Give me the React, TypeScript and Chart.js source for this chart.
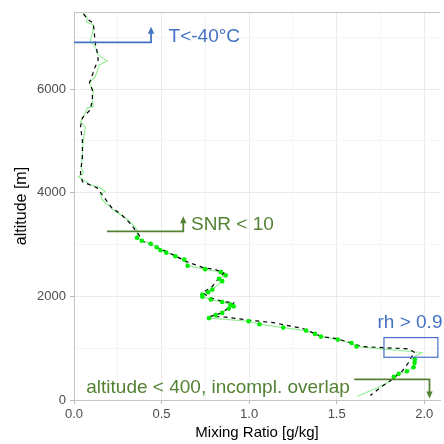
import React, { useEffect, useRef } from "react";
import { Chart, registerables } from "chart.js";

Chart.register(...registerables);

// Raw profile (light green line), top to bottom
const profileMixingRatio = [
  0.054, 0.076, 0.071, 0.110, 0.107, 0.093, 0.121, 0.138, 0.189, 0.144, 0.133, 0.121, 0.088, 0.110, 0.105,
  0.110, 0.076, 0.054, 0.037, 0.065, 0.054, 0.048, 0.042, 0.054, 0.025, 0.093, 0.150, 0.178, 0.150, 0.161,
  0.223, 0.308, 0.347, 0.359, 0.364,
  0.360, 0.387, 0.438, 0.472, 0.494, 0.527, 0.579, 0.630, 0.649, 0.749, 0.839, 0.866, 0.828, 0.846, 0.790,
  0.766, 0.733, 0.733, 0.781, 0.846, 0.894, 0.912, 0.884, 0.846, 0.809, 0.771, 0.997, 1.059, 1.195, 1.325,
  1.376, 1.410, 1.506, 1.585, 1.613,
  1.986, 1.946,
  1.946, 1.945, 1.939, 1.901, 1.854, 1.826,
  1.805, 1.732, 1.619,
];
const profileAltitude = [
  7471, 7375, 7298, 7240, 7105, 6932, 6816, 6662, 6546, 6469, 6353, 6238, 6122, 5967, 5794,
  5659, 5640, 5466, 5370, 5273, 5022, 4772, 4483, 4387, 4310, 4155, 4098, 4021, 3981, 3866,
  3673, 3480, 3345, 3287, 3229,
  3133, 3075, 3017, 2950, 2892, 2844, 2776, 2709, 2593, 2526, 2468, 2406, 2342, 2294, 2131,
  2082, 2034, 1995, 1938, 1893, 1841, 1808, 1764, 1681, 1639, 1581, 1519, 1461, 1398, 1340,
  1276, 1224, 1166, 1099, 1031,
  916, 839,
  781, 717, 633, 556, 505, 447,
  357, 235, 73,
];

// Smoothed profile (black dashed line)
const smoothMixingRatio = [
  0.054, 0.082, 0.110, 0.116, 0.121, 0.133, 0.138, 0.121, 0.105, 0.088, 0.105, 0.105, 0.093, 0.048, 0.037,
  0.048, 0.048, 0.037, 0.048, 0.131, 0.168, 0.216, 0.272, 0.319, 0.363, 0.394, 0.527, 0.640, 0.733, 0.809,
  0.856, 0.828, 0.790, 0.733, 0.781, 0.846, 0.912, 0.884, 0.828, 0.781, 0.866, 0.997, 1.138, 1.308, 1.415,
  1.500, 1.591, 1.647, 1.760, 1.912, 1.946, 1.929, 1.911, 1.873, 1.816, 1.760, 1.692,
];
const smoothAltitude = [
  7452, 7336, 7278, 7086, 6893, 6700, 6565, 6430, 6276, 6122, 5987, 5794, 5601, 5447, 5273,
  5022, 4695, 4387, 4213, 4097, 3929, 3711, 3576, 3416, 3224, 3062, 2869, 2676, 2560, 2516,
  2452, 2356, 2194, 2067, 1970, 1905, 1874, 1778, 1662, 1616, 1600, 1542, 1494, 1379, 1224,
  1186, 1090, 1032, 1012, 987, 916, 839, 723, 555, 395, 266, 87,
];

// Highlighted samples (bright green points)
const pointMixingRatio = [
  0.360, 0.387, 0.438, 0.472, 0.494, 0.527, 0.579, 0.630, 0.649, 0.749, 0.839, 0.866, 0.828, 0.846, 0.790,
  0.766, 0.733, 0.733, 0.781, 0.846, 0.894, 0.912, 0.884, 0.846, 0.809, 0.771, 0.997, 1.059, 1.195, 1.325,
  1.376, 1.410, 1.506, 1.585, 1.613,
  1.946, 1.945, 1.939, 1.901, 1.854, 1.826,
];
const pointAltitude = [
  3133, 3075, 3017, 2950, 2892, 2844, 2776, 2709, 2593, 2526, 2468, 2406, 2342, 2294, 2131,
  2082, 2034, 1995, 1938, 1893, 1841, 1808, 1764, 1681, 1639, 1581, 1519, 1461, 1398, 1340,
  1276, 1224, 1166, 1099, 1031,
  781, 717, 633, 556, 505, 447,
];

// Axes
const xMin = 0;
const xMax = 2.09;
const yMin = 0;
const yMax = 7490;
const xGridValues = [0, 0.25, 0.5, 0.75, 1, 1.25, 1.5, 1.75, 2];
const xTickValues = [0, 0.5, 1, 1.5, 2];
const xTickLabels = ["0.0", "0.5", "1.0", "1.5", "2.0"];
const yGridValues = [0, 1000, 2000, 3000, 4000, 5000, 6000, 7000];
const yTickValues = [0, 2000, 4000, 6000];
const yTickLabels = ["0", "2000", "4000", "6000"];
const xTitle = "Mixing Ratio [g/kg]";
const yTitle = "altitude [m]";

// Annotations
const blue = "#4472C4";
const green = "#548235";
const tempLabel = "T<-40°C";
const tempLineX = [0, 0.44];
const tempLineAlt = 6905;
const tempArrowTop = 7205;
const tempLabelX = 0.54;
const snrLabel = "SNR < 10";
const snrLineX = [0.188, 0.624];
const snrLineAlt = 3255;
const snrArrowTop = 3545;
const snrLabelX = 0.668;
const snrLabelAlt = 3285;
const rhLabel = "rh > 0.9";
const rhBoxX = [1.77, 2.078];
const rhBoxAlt = [825, 1205];
const rhLabelX = 1.733;
const rhLabelAlt = 1384;
const overlapLabel = "altitude < 400, incompl. overlap";
const overlapLineX = [1.6, 2.03];
const overlapLineAlt = 400;
const overlapArrowBottom = 30;
const overlapLabelX = 0.07;
const overlapLabelAlt = 131;

const FONT = '"Liberation Sans", Arial, Helvetica, sans-serif';

function toPoints(xs: number[], ys: number[]) {
  return xs.map((x, i) => ({ x, y: ys[i] }));
}

const labelFor = (values: number[], labels: string[], v: number) => {
  const i = values.findIndex((t) => Math.abs(t - v) < 1e-6);
  return i >= 0 ? labels[i] : "";
};
const isMajor = (values: number[], v: number) => values.some((t) => Math.abs(t - v) < 1e-6);

const annotationPlugin = {
  id: "annotations",
  afterDraw(chart: any) {
    const { ctx, chartArea, scales } = chart;
    const xs = scales.x;
    const ys = scales.y;
    const px = (v: number) => xs.getPixelForValue(v);
    const py = (v: number) => ys.getPixelForValue(v);
    ctx.save();
    // top panel border
    ctx.strokeStyle = "#c4c4c4";
    ctx.lineWidth = 1;
    ctx.beginPath();
    ctx.moveTo(chartArea.left, Math.round(chartArea.top) + 0.5);
    ctx.lineTo(chartArea.right, Math.round(chartArea.top) + 0.5);
    ctx.stroke();

    const arrowHead = (x: number, y: number, dir: number, color: string) => {
      ctx.fillStyle = color;
      ctx.beginPath();
      ctx.moveTo(x, y);
      ctx.lineTo(x - 3.2, y - dir * 7);
      ctx.lineTo(x + 3.2, y - dir * 7);
      ctx.closePath();
      ctx.fill();
    };

    ctx.lineWidth = 1.8;
    ctx.lineJoin = "miter";
    // T < -40
    ctx.strokeStyle = blue;
    ctx.beginPath();
    ctx.moveTo(px(tempLineX[0]), py(tempLineAlt));
    ctx.lineTo(px(tempLineX[1]), py(tempLineAlt));
    ctx.lineTo(px(tempLineX[1]), py(tempArrowTop) + 5);
    ctx.stroke();
    arrowHead(px(tempLineX[1]), py(tempArrowTop), -1, blue);

    // SNR
    ctx.strokeStyle = green;
    ctx.beginPath();
    ctx.moveTo(px(snrLineX[0]), py(snrLineAlt));
    ctx.lineTo(px(snrLineX[1]), py(snrLineAlt));
    ctx.lineTo(px(snrLineX[1]), py(snrArrowTop) + 5);
    ctx.stroke();
    arrowHead(px(snrLineX[1]), py(snrArrowTop), -1, green);

    // overlap
    ctx.beginPath();
    ctx.moveTo(px(overlapLineX[0]), py(overlapLineAlt));
    ctx.lineTo(px(overlapLineX[1]), py(overlapLineAlt));
    ctx.lineTo(px(overlapLineX[1]), py(overlapArrowBottom) - 5);
    ctx.stroke();
    arrowHead(px(overlapLineX[1]), py(overlapArrowBottom), 1, green);

    // rh box
    ctx.strokeStyle = blue;
    ctx.lineWidth = 1.2;
    const bx0 = px(rhBoxX[0]);
    const bx1 = px(rhBoxX[1]);
    const by0 = py(rhBoxAlt[1]);
    const by1 = py(rhBoxAlt[0]);
    ctx.strokeRect(bx0, by0, bx1 - bx0, by1 - by0);

    // labels
    ctx.font = "19px " + FONT;
    ctx.textBaseline = "alphabetic";
    ctx.textAlign = "left";
    ctx.fillStyle = blue;
    ctx.fillText(tempLabel, px(tempLabelX), py(tempLineAlt));
    ctx.fillText(rhLabel, px(rhLabelX), py(rhLabelAlt));
    ctx.fillStyle = green;
    ctx.fillText(snrLabel, px(snrLabelX), py(snrLabelAlt));
    ctx.fillText(overlapLabel, px(overlapLabelX), py(overlapLabelAlt));
    ctx.restore();
  },
};

export default function App() {
  const canvasRef = useRef<HTMLCanvasElement | null>(null);

  useEffect(() => {
    const canvas = canvasRef.current;
    if (!canvas) return;
    const chart = new Chart(canvas, {
      type: "scatter",
      data: {
        datasets: [
          {
            label: "points",
            data: toPoints(pointMixingRatio, pointAltitude),
            showLine: false,
            pointRadius: 2.3,
            pointBackgroundColor: "#00ee00",
            pointBorderWidth: 0,
            order: 0,
          },
          {
            label: "smooth",
            data: toPoints(smoothMixingRatio, smoothAltitude),
            showLine: true,
            borderColor: "#000000",
            borderWidth: 1.2,
            borderDash: [4, 4],
            pointRadius: 0,
            tension: 0,
            order: 1,
          },
          {
            label: "profile",
            data: toPoints(profileMixingRatio, profileAltitude),
            showLine: true,
            borderColor: "#90EE90",
            borderWidth: 1.1,
            pointRadius: 0,
            tension: 0,
            order: 2,
          },
        ],
      },
      options: {
        responsive: false,
        animation: false,
        events: [],
        layout: { padding: { top: 12, right: 0, left: 0, bottom: 0 } },
        plugins: { legend: { display: false }, tooltip: { enabled: false }, title: { display: false } },
        scales: {
          x: {
            type: "linear",
            min: xMin,
            max: xMax,
            afterBuildTicks: (s: any) => {
              s.ticks = xGridValues.map((value) => ({ value }));
            },
            afterFit: (s: any) => {
              s.height = 44;
            },
            ticks: {
              autoSkip: false,
              maxRotation: 0,
              padding: 3,
              color: "#4d4d4d",
              font: { family: FONT, size: 13 },
              callback: (v: any) => labelFor(xTickValues, xTickLabels, Number(v)),
            },
            grid: {
              color: (c: any) => (c.tick && isMajor(xTickValues, c.tick.value) ? "#ebebeb" : "#f5f5f5"),
              tickColor: (c: any) => (c.tick && isMajor(xTickValues, c.tick.value) ? "#b8b8b8" : "rgba(0,0,0,0)"),
              tickLength: 4,
              lineWidth: 1,
            },
            border: { display: true, color: "#c4c4c4", width: 1 },
            title: {
              display: true,
              text: xTitle,
              color: "#000000",
              font: { family: FONT, size: 15 },
              padding: { top: 0, bottom: 2 },
            },
          },
          y: {
            type: "linear",
            min: yMin,
            max: yMax,
            afterBuildTicks: (s: any) => {
              s.ticks = yGridValues.map((value) => ({ value }));
            },
            afterFit: (s: any) => {
              s.width = 74;
            },
            ticks: {
              autoSkip: false,
              padding: 4,
              color: "#4d4d4d",
              font: { family: FONT, size: 13 },
              callback: (v: any) => labelFor(yTickValues, yTickLabels, Number(v)),
            },
            grid: {
              color: (c: any) => (c.tick && isMajor(yTickValues, c.tick.value) ? "#ebebeb" : "#f5f5f5"),
              tickColor: (c: any) => (c.tick && isMajor(yTickValues, c.tick.value) ? "#b8b8b8" : "rgba(0,0,0,0)"),
              tickLength: 4,
              lineWidth: 1,
            },
            border: { display: true, color: "#c4c4c4", width: 1 },
            title: {
              display: true,
              text: yTitle,
              color: "#000000",
              font: { family: FONT, size: 16 },
              padding: { top: 12, bottom: 0 },
            },
          },
        },
      },
      plugins: [annotationPlugin],
    } as any);
    return () => chart.destroy();
  }, []);

  return (
    <div style={{ position: "absolute", left: 0, top: 0, width: 444, height: 444, background: "#ffffff" }}>
      <canvas ref={canvasRef} width={444} height={444} style={{ display: "block", width: 444, height: 444 }} />
    </div>
  );
}
